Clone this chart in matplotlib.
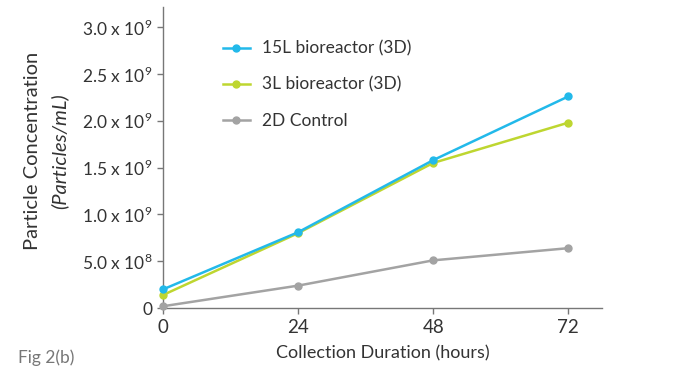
import matplotlib.pyplot as plt

plt.rcParams['font.family'] = ['Lato', 'DejaVu Sans']
plt.rcParams['mathtext.fontset'] = 'custom'
plt.rcParams['mathtext.rm'] = 'Lato'

# data
hours = [0, 24, 48, 72]
bio15 = [0.20e9, 0.81e9, 1.58e9, 2.26e9]
bio3 = [0.14e9, 0.80e9, 1.55e9, 1.98e9]
control2d = [0.02e9, 0.24e9, 0.51e9, 0.64e9]
yticks = [0, 0.5e9, 1.0e9, 1.5e9, 2.0e9, 2.5e9, 3.0e9]
ylabels = ['0', r'5.0 x 10$^{8}$', r'1.0 x 10$^{9}$', r'1.5 x 10$^{9}$',
           r'2.0 x 10$^{9}$', r'2.5 x 10$^{9}$', r'3.0 x 10$^{9}$']

txt = '#333333'
fig = plt.figure(figsize=(6.86, 3.69), dpi=100)
ax = fig.add_axes([0.2376, 0.165, 0.64, 0.816])

ax.plot(hours, control2d, '-o', color='#a3a3a3', lw=1.8, ms=5, label='2D Control', clip_on=False, zorder=3)
ax.plot(hours, bio3, '-o', color='#bed630', lw=1.8, ms=5, label='3L bioreactor (3D)', clip_on=False, zorder=4)
ax.plot(hours, bio15, '-o', color='#22b9ea', lw=1.8, ms=5, label='15L bioreactor (3D)', clip_on=False, zorder=5)

ax.set_xlim(0, 78)
ax.set_ylim(0, 3.215e9)
ax.set_xticks(hours)
ax.set_yticks(yticks)
ax.set_yticklabels(ylabels)
ax.tick_params(axis='both', colors='#777777', labelcolor=txt, labelsize=12.5, length=4, width=1)
ax.tick_params(axis='x', labelsize=13.5)
for s in ['top', 'right']:
    ax.spines[s].set_visible(False)
for s in ['left', 'bottom']:
    ax.spines[s].set_color('#777777')
    ax.spines[s].set_linewidth(1)

ax.set_xlabel('Collection Duration (hours)', fontsize=13, color=txt, labelpad=7)
fig.text(0.047, 0.59, 'Particle Concentration', rotation=90, fontsize=14.5, color=txt, ha='center', va='center')
fig.text(0.087, 0.59, '(Particles/mL)', rotation=90, fontsize=14.5, color=txt, ha='center', va='center', style='italic')
fig.text(0.026, 0.03, 'Fig 2(b)', fontsize=12.5, color='#777777', ha='left', va='center')

h, l = ax.get_legend_handles_labels()
ax.legend(h[::-1], l[::-1], loc='upper left', bbox_to_anchor=(0.1, 0.94), frameon=False,
          fontsize=12.5, handlelength=1.6, handletextpad=0.7, labelcolor=txt, labelspacing=1.15)

fig.savefig('out.png', dpi=100)
